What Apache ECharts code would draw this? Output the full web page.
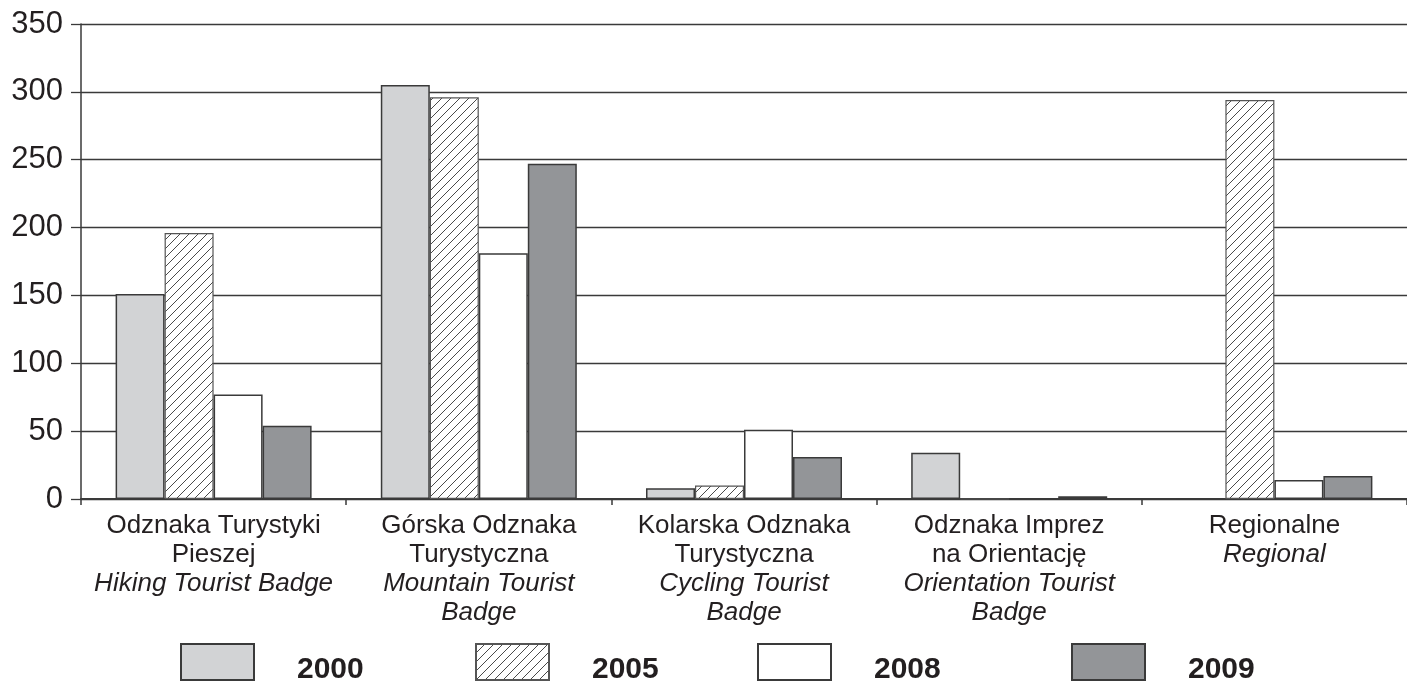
<!DOCTYPE html>
<html>
<head>
<meta charset="utf-8">
<script src="https://cdn.jsdelivr.net/npm/echarts@6/dist/echarts.min.js"></script>
<style>
  html, body { margin: 0; padding: 0; background: #fff; }
  #chart { width: 1407px; height: 683px; }
</style>
</head>
<body>
<div id="chart"></div>
<script>
// Badge categories: Polish name (regular) and English name (italic)
const categoriesPl = [
  'Odznaka Turystyki\nPieszej',
  'Górska Odznaka\nTurystyczna',
  'Kolarska Odznaka\nTurystyczna',
  'Odznaka Imprez\nna Orientację',
  'Regionalne'
];
const categoriesEn = [
  'Hiking Tourist Badge',
  'Mountain Tourist\nBadge',
  'Cycling Tourist\nBadge',
  'Orientation Tourist\nBadge',
  'Regional'
];

const years = ['2000', '2005', '2008', '2009'];

// Number of badges awarded per year
const values2000 = [151, 305, 8, 34, 0];
const values2005 = [196, 296, 10, 0, 294];
const values2008 = [77, 181, 51, 0, 14];
const values2009 = [54, 247, 31, 2, 17];

const yTicks = { min: 0, max: 350, interval: 50 };

// Diagonal hatch fill for the 2005 series
function hatchPattern() {
  const s = 9;
  const c = document.createElement('canvas');
  c.width = s; c.height = s;
  const g = c.getContext('2d');
  g.fillStyle = '#ffffff';
  g.fillRect(0, 0, s, s);
  g.strokeStyle = '#4a4a4a';
  g.lineWidth = 1;
  g.beginPath();
  g.moveTo(-1, s + 1); g.lineTo(s + 1, -1);
  g.moveTo(-1, 1); g.lineTo(1, -1);
  g.moveTo(s - 1, s + 1); g.lineTo(s + 1, s - 1);
  g.stroke();
  return { image: c, repeat: 'repeat' };
}

const border = '#3a3a3a';
const seriesStyles = [
  { color: '#d2d3d5', borderColor: border, borderWidth: 1.5 },
  { color: hatchPattern(), borderColor: '#555', borderWidth: 1.2 },
  { color: '#ffffff', borderColor: border, borderWidth: 1.5 },
  { color: '#939598', borderColor: border, borderWidth: 1.5 }
];
const seriesValues = [values2000, values2005, values2008, values2009];

const legendLeft = [180, 475, 757, 1071];

const textColor = '#231f20';
const lineColor = '#3a3a3a';

function categoryLabel(idx) {
  const pl = categoriesPl[idx].split('\n').map(t => '{pl|' + t + '}');
  const en = categoriesEn[idx].split('\n').map(t => '{en|' + t + '}');
  return pl.concat(en).join('\n');
}

const chart = echarts.init(document.getElementById('chart'), null, { renderer: 'canvas' });

chart.setOption({
  animation: false,
  backgroundColor: '#ffffff',
  textStyle: { fontFamily: 'Liberation Sans, Arial, sans-serif', color: textColor },
  grid: { left: 81, right: -5, top: 24, bottom: 184, containLabel: false },
  legend: years.map((y, i) => ({
    data: [{ name: y, icon: 'rect' }],
    left: legendLeft[i],
    top: 643,
    padding: 0,
    itemWidth: 73,
    itemHeight: 36,
    selectedMode: false,
    // a zero-width spacer lowers the year label a little below the swatch centre
    formatter: '{s|}{t|{name}}',
    textStyle: {
      color: textColor,
      rich: {
        s: { width: 38, height: 46 },
        t: {
          fontFamily: 'Liberation Sans, Arial, sans-serif',
          fontSize: 30,
          fontWeight: 'bold',
          lineHeight: 30,
          color: textColor,
          verticalAlign: 'bottom'
        }
      }
    }
  })),
  xAxis: {
    type: 'category',
    data: categoriesPl.map((_, i) => i),
    axisLine: { show: true, lineStyle: { color: lineColor, width: 2 } },
    axisTick: { show: true, length: 6, lineStyle: { color: lineColor, width: 1.5 } },
    axisLabel: {
      interval: 0,
      margin: 12,
      formatter: (v) => categoryLabel(Number(v)),
      rich: {
        pl: { fontSize: 26, lineHeight: 29, color: textColor, fontFamily: 'Liberation Sans, Arial, sans-serif' },
        en: { fontSize: 26, lineHeight: 29, color: textColor, fontStyle: 'italic', fontFamily: 'Liberation Sans, Arial, sans-serif' }
      }
    }
  },
  yAxis: {
    type: 'value',
    min: yTicks.min,
    max: yTicks.max,
    interval: yTicks.interval,
    axisLine: { show: true, lineStyle: { color: lineColor, width: 1.5 } },
    axisTick: { show: true, length: 10, lineStyle: { color: lineColor, width: 1.3 } },
    splitLine: { show: true, lineStyle: { color: lineColor, width: 1.3 } },
    axisLabel: { fontSize: 31, color: textColor, margin: 18 }
  },
  series: years.map((y, i) => ({
    name: y,
    type: 'bar',
    barWidth: 49,
    barGap: '0%',
    data: seriesValues[i],
    itemStyle: seriesStyles[i]
  }))
});
</script>
</body>
</html>
